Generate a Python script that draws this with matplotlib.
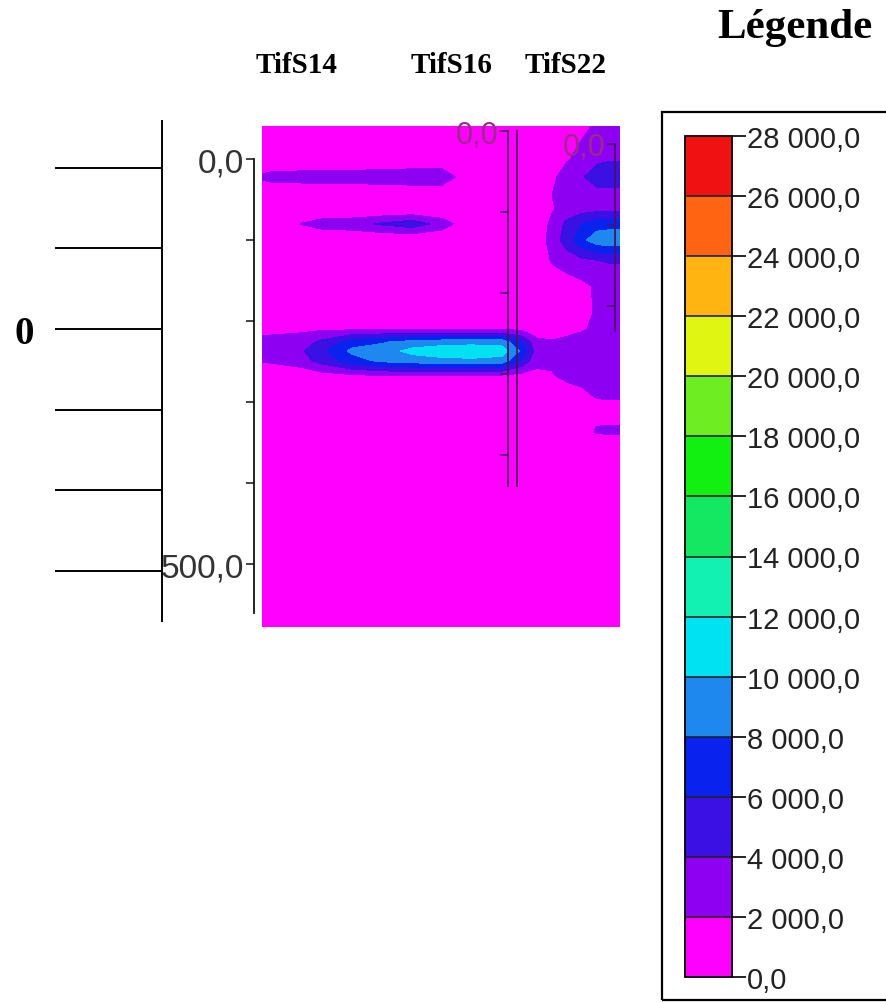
import numpy as np
import matplotlib
matplotlib.use("Agg")
import matplotlib.pyplot as plt
from matplotlib.colors import ListedColormap, BoundaryNorm
from matplotlib.patches import Rectangle
from matplotlib.ticker import FuncFormatter

# ---------------- data ----------------
boreholes = ["TifS14", "TifS16", "TifS22"]
levels = list(range(0, 28001, 2000))
band_colors = ["#FF00FF", "#8E00F2", "#3A10E4", "#0A22EE", "#1E88EE", "#00E2F2",
               "#12F0B2", "#14E862", "#12F012", "#6EEE22", "#E0F512", "#FFB412",
               "#FF6412", "#F01212"]

# horizontal distance along the section (m) and depth (m)
distance = [0, 10, 40, 60, 90, 120, 150, 180, 210, 240, 260, 275, 290, 305, 320, 335, 350, 358]
depth = [-41, -20, 0, 22, 45, 62, 80, 100, 125, 157, 190, 210, 226, 237, 249, 268, 290, 310, 336, 360, 578]
values = [
    [0, 0, 0, 0, 0, 0, 0, 0, 0, 0, 0, 0, 0, 0, 1200, 2500, 2800, 2800],
    [0, 0, 0, 0, 0, 0, 0, 0, 0, 0, 0, 0, 0, 1000, 2200, 2800, 3000, 3000],
    [0, 0, 0, 0, 0, 0, 0, 0, 0, 0, 0, 0, 500, 1800, 2600, 3500, 3800, 3800],
    [2400, 2800, 3000, 3000, 3100, 3400, 3600, 3600, 0, 0, 0, 0, 1500, 3000, 3800, 5200, 5500, 5300],
    [0, 0, 0, 0, 0, 0, 0, 0, 0, 0, 0, 500, 2000, 2800, 3000, 3000, 3000, 3000],
    [0, 0, 0, 0, 0, 0, 0, 0, 0, 0, 0, 300, 1800, 2800, 3200, 3400, 3500, 3500],
    [0, 0, 2100, 3000, 3300, 4300, 5200, 3200, 0, 0, 0, 500, 2500, 4500, 6000, 7000, 7200, 7200],
    [0, 0, 0, 0, 0, 0, 0, 0, 0, 0, 0, 800, 2800, 5000, 7500, 9200, 9500, 9500],
    [0, 0, 0, 0, 0, 0, 0, 0, 0, 0, 0, 500, 2200, 3000, 3600, 4000, 4200, 4200],
    [0, 0, 0, 0, 0, 0, 0, 0, 0, 0, 0, 300, 800, 1000, 1500, 2300, 2800, 2800],
    [0, 0, 0, 0, 0, 0, 0, 0, 0, 0, 0, 0, 500, 800, 1200, 2300, 2600, 2600],
    [1500, 1500, 1600, 1700, 1700, 1700, 1700, 1700, 1700, 1700, 1600, 900, 900, 1200, 1800, 2400, 2600, 2600],
    [2500, 2600, 3000, 4500, 7000, 7800, 8800, 9200, 9300, 9200, 6000, 2500, 2200, 2600, 2800, 3000, 3000, 3000],
    [3200, 3400, 3800, 5500, 8500, 9000, 10600, 11200, 11500, 11000, 7500, 3000, 2500, 2800, 3000, 3200, 3200, 3200],
    [2200, 2400, 3200, 4800, 7000, 8500, 9000, 9400, 9500, 9200, 5500, 2500, 2400, 2800, 3000, 3000, 3000, 3000],
    [0, 0, 500, 1000, 1500, 1700, 1800, 1800, 1700, 1500, 1200, 1500, 1800, 2500, 2800, 3000, 3000, 3000],
    [0, 0, 0, 0, 0, 0, 0, 0, 0, 0, 0, 0, 500, 1000, 1500, 2400, 2600, 2600],
    [0, 0, 0, 0, 0, 0, 0, 0, 0, 0, 0, 0, 0, 300, 600, 1000, 1000, 1000],
    [0, 0, 0, 0, 0, 0, 0, 0, 0, 0, 0, 0, 0, 0, 800, 2300, 2400, 2400],
    [0] * 18,
    [0] * 18,
]
depth_ticks = [0, 100, 200, 300, 400, 500]
ruler_levels = [2, 1, 0, -1, -2, -3]

# ---------------- layout helpers ----------------
W, H = 887, 1003
fig = plt.figure(figsize=(W / 100, H / 100), dpi=100)
fig.patch.set_facecolor("white")


def box(x0, y0, x1, y1):
    """pixel box (top-left origin) -> figure fraction rect"""
    return [x0 / W, (H - y1) / H, (x1 - x0) / W, (y1 - y0) / H]


sans = "Liberation Sans"
serif = "Liberation Serif"
px_per_m = 0.81
top_px, bot_px = 127, 628

# ---------------- section (contour) ----------------
ax = fig.add_axes(box(262, top_px, 620, bot_px))
cmap = ListedColormap(band_colors)
norm = BoundaryNorm(levels, cmap.N)
X, Y = np.meshgrid(distance, depth)
Z = np.array(values, dtype=float)
cf = ax.contourf(X, Y, Z, levels=levels, cmap=cmap, norm=norm)
ax.set_xlim(0, 358)
zero14 = 160
ax.set_ylim((bot_px - zero14) / px_per_m, (top_px - zero14) / px_per_m)
ax.axis("off")


def depth_axis(x0, x1, zero_px, length_m, color, label_color, size, twin_line=False):
    a = fig.add_axes(box(x0, top_px, x1, bot_px))
    a.patch.set_alpha(0)
    a.set_ylim((bot_px - zero_px) / px_per_m, (top_px - zero_px) / px_per_m)
    a.set_xticks([])
    for s in ["top", "bottom", "right"]:
        a.spines[s].set_visible(False)
    a.spines["left"].set_bounds(0, length_m)
    a.spines["left"].set_color(color)
    a.spines["left"].set_linewidth(1.3)
    if twin_line:
        a.spines["right"].set_visible(True)
        a.spines["right"].set_bounds(0, length_m)
        a.spines["right"].set_color(color)
        a.spines["right"].set_linewidth(1.3)
    ticks = [t for t in depth_ticks if t <= length_m]
    a.set_yticks(ticks)
    a.set_yticklabels(["0,0" if t == 0 else ("500,0" if t == 500 else "") for t in ticks])
    a.tick_params(axis="y", direction="out", length=6, width=1.1, color=color,
                  labelcolor=label_color, labelsize=size, pad=1)
    for lab in a.get_yticklabels():
        lab.set_fontfamily(sans)
    return a


depth_axis(254, 255, 160, 560, "#111111", "#333333", 24)
depth_axis(508, 517, 132, 438, "#4a1262", "#9a2a8c", 22, twin_line=True)
depth_axis(615, 616, 145, 231, "#4a1262", "#9a2a8c", 22)

# ---------------- elevation ruler ----------------
r = fig.add_axes(box(162, 122, 163, 622))
r.patch.set_alpha(0)
r.set_ylim(-3.618, 2.577)
r.set_xticks([])
for s in ["top", "bottom", "right"]:
    r.spines[s].set_visible(False)
r.spines["left"].set_linewidth(1.4)
r.set_yticks(ruler_levels)
r.set_yticklabels(["0" if v == 0 else "" for v in ruler_levels])
r.tick_params(axis="y", direction="out", length=107 * 0.72, width=1.4, pad=15, labelsize=28)
for lab in r.get_yticklabels():
    lab.set_fontfamily(serif)
    lab.set_fontweight("bold")

# ---------------- headers ----------------
for name, xc in zip(boreholes, [296, 452, 566]):
    fig.text(xc / W, 1 - 73 / H, name, ha="center", va="baseline",
             fontfamily=serif, fontweight="bold", fontsize=21)
fig.text(795 / W, 1 - 38 / H, "Légende", ha="center", va="baseline",
         fontfamily=serif, fontweight="bold", fontsize=31)

# ---------------- legend / colorbar ----------------
fig.patches.append(Rectangle((662 / W, (H - 1001) / H), (W + 20 - 662) / W, (1001 - 113) / H,
                             transform=fig.transFigure, fill=False, edgecolor="black",
                             linewidth=1.6, clip_on=False))
cax = fig.add_axes(box(685, 137, 732, 978))
cb = fig.colorbar(cf, cax=cax, ticks=levels, drawedges=True)
cb.outline.set_linewidth(1.3)
cb.dividers.set_linewidth(1.2)
cb.dividers.set_color("#222222")


def fmt(v, pos=None):
    v = int(round(v))
    s = f"{v:,}".replace(",", " ")
    return s + ",0"


cb.ax.yaxis.set_major_formatter(FuncFormatter(fmt))
cb.ax.tick_params(length=10, width=1.2, labelsize=21, pad=1, labelcolor="#222222")
for lab in cb.ax.get_yticklabels():
    lab.set_fontfamily(sans)

fig.savefig("out.png", dpi=100, facecolor="white")
